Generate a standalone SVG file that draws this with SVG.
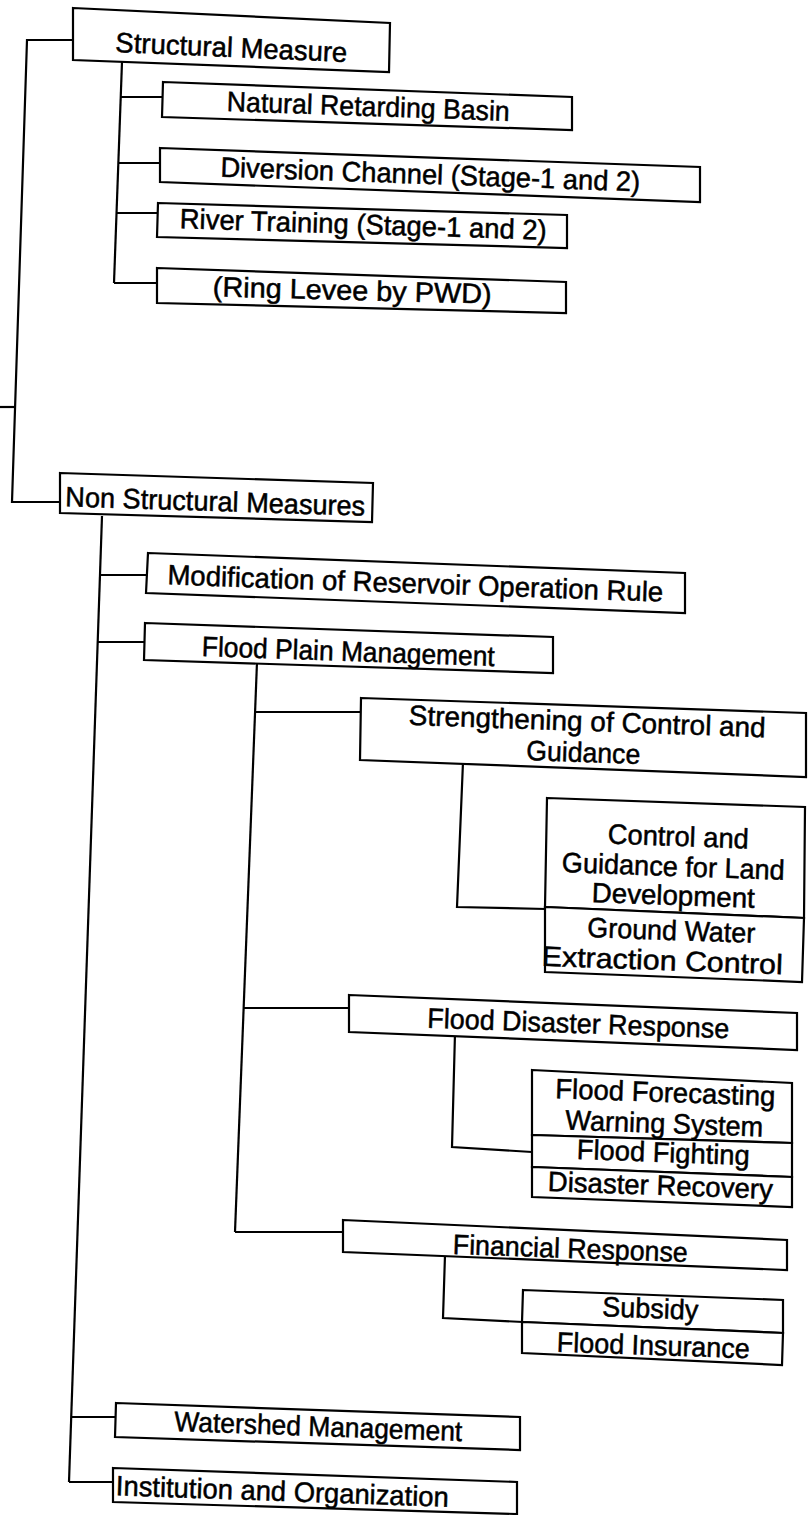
<svg xmlns="http://www.w3.org/2000/svg" width="808" height="1515" viewBox="0 0 808 1515">
<style>
.box{fill:#fff;stroke:#000;stroke-width:2.2;stroke-linejoin:miter}
.c{stroke:#000;stroke-width:2.2;fill:none}
.t{font-family:"Liberation Sans",Arial,sans-serif;font-size:28px;fill:#000;stroke:#000;stroke-width:0.5;text-anchor:middle}
</style>
<rect x="0" y="0" width="808" height="1515" fill="#fff"/>
<g id="connectors">
<polyline class="c" points="73,40 27,40 12,502 60,502"/>
<line class="c" x1="0" y1="407" x2="15" y2="407"/>
<line class="c" x1="122" y1="62" x2="114" y2="283"/>
<line class="c" x1="121" y1="97" x2="162" y2="97"/>
<line class="c" x1="118" y1="163" x2="160" y2="163"/>
<line class="c" x1="117" y1="213" x2="158" y2="213"/>
<line class="c" x1="114" y1="283" x2="157" y2="283"/>
<line class="c" x1="102" y1="516" x2="69" y2="1482"/>
<line class="c" x1="100" y1="575" x2="147" y2="575"/>
<line class="c" x1="98" y1="642" x2="145" y2="642"/>
<line class="c" x1="71" y1="1417" x2="116" y2="1417"/>
<line class="c" x1="69" y1="1482" x2="113" y2="1482"/>
<line class="c" x1="257" y1="662" x2="235" y2="1232"/>
<line class="c" x1="255" y1="712" x2="361" y2="712"/>
<line class="c" x1="244" y1="1008" x2="349" y2="1008"/>
<line class="c" x1="235" y1="1232" x2="343" y2="1232"/>
<polyline class="c" points="463,762 457,907 546,909"/>
<polyline class="c" points="455,1033 452,1147 532,1152"/>
<polyline class="c" points="445,1255 443,1318 523,1322"/>
</g>
<g id="n-structural">
<polygon class="box" points="73,8 390,23 389,72 73,60"/>
<text class="t" x="231" y="57" transform="rotate(2.5 231 57)" textLength="232" lengthAdjust="spacingAndGlyphs">Structural Measure</text>
</g>
<g id="n-natural">
<polygon class="box" points="163,82 572,97 572,130 162,117"/>
<text class="t" x="368" y="116" transform="rotate(2 368 116)" textLength="283" lengthAdjust="spacingAndGlyphs">Natural Retarding Basin</text>
</g>
<g id="n-diversion">
<polygon class="box" points="160,148 700,167 700,202 160,182"/>
<text class="t" x="430" y="184" transform="rotate(2 430 184)" textLength="420" lengthAdjust="spacingAndGlyphs">Diversion Channel (Stage-1 and 2)</text>
</g>
<g id="n-river">
<polygon class="box" points="158,203 567,215 567,248 157,237"/>
<text class="t" x="363" y="234" transform="rotate(1.8 363 234)" textLength="367" lengthAdjust="spacingAndGlyphs">River Training (Stage-1 and 2)</text>
</g>
<g id="n-ring">
<polygon class="box" points="157,268 566,282 566,313 157,303"/>
<text class="t" x="352" y="300" transform="rotate(1.5 352 300)" textLength="279" lengthAdjust="spacingAndGlyphs">(Ring Levee by PWD)</text>
</g>
<g id="n-nonstructural">
<polygon class="box" points="60,473 373,483 372,522 60,513"/>
<text class="t" x="215" y="511" transform="rotate(1.8 215 511)" textLength="300" lengthAdjust="spacingAndGlyphs">Non Structural Measures</text>
</g>
<g id="n-modification">
<polygon class="box" points="148,553 685,573 685,613 146,593"/>
<text class="t" x="415" y="593" transform="rotate(2 415 593)" textLength="496" lengthAdjust="spacingAndGlyphs">Modification of Reservoir Operation Rule</text>
</g>
<g id="n-floodplain">
<polygon class="box" points="145,623 553,637 553,673 144,660"/>
<text class="t" x="348" y="661" transform="rotate(2 348 661)" textLength="293" lengthAdjust="spacingAndGlyphs">Flood Plain Management</text>
</g>
<g id="n-strengthening">
<polygon class="box" points="361,698 806,713 806,777 360,760"/>
<text class="t" x="587" y="731" transform="rotate(2 587 731)" textLength="357" lengthAdjust="spacingAndGlyphs">Strengthening of Control and</text>
<text class="t" x="583" y="762" transform="rotate(2 583 762)" textLength="114" lengthAdjust="spacingAndGlyphs">Guidance</text>
</g>
<g id="n-landdev">
<polygon class="box" points="547,798 805,807 804,918 545,907"/>
<text class="t" x="678" y="846" transform="rotate(2 678 846)" textLength="141" lengthAdjust="spacingAndGlyphs">Control and</text>
<text class="t" x="673" y="876" transform="rotate(2 673 876)" textLength="223" lengthAdjust="spacingAndGlyphs">Guidance for Land</text>
<text class="t" x="673" y="905" transform="rotate(2 673 905)" textLength="163" lengthAdjust="spacingAndGlyphs">Development</text>
</g>
<g id="n-groundwater">
<polygon class="box" points="545,907 804,918 802,982 545,972"/>
<text class="t" x="671" y="940" transform="rotate(2 671 940)" textLength="168" lengthAdjust="spacingAndGlyphs">Ground Water</text>
<text class="t" x="662" y="970" transform="rotate(2 662 970)" textLength="241" lengthAdjust="spacingAndGlyphs">Extraction Control</text>
</g>
<g id="n-disaster">
<polygon class="box" points="349,995 797,1013 797,1050 349,1032"/>
<text class="t" x="578" y="1033" transform="rotate(2 578 1033)" textLength="302" lengthAdjust="spacingAndGlyphs">Flood Disaster Response</text>
</g>
<g id="n-forecasting">
<polygon class="box" points="532,1070 792,1083 792,1143 532,1135"/>
<text class="t" x="665" y="1102" transform="rotate(2 665 1102)" textLength="220" lengthAdjust="spacingAndGlyphs">Flood Forecasting</text>
<text class="t" x="664" y="1133" transform="rotate(2 664 1133)" textLength="198" lengthAdjust="spacingAndGlyphs">Warning System</text>
</g>
<g id="n-fighting">
<polygon class="box" points="532,1135 792,1143 792,1177 532,1167"/>
<text class="t" x="663" y="1162" transform="rotate(2 663 1162)" textLength="173" lengthAdjust="spacingAndGlyphs">Flood Fighting</text>
</g>
<g id="n-recovery">
<polygon class="box" points="532,1167 792,1177 792,1207 532,1197"/>
<text class="t" x="660" y="1195" transform="rotate(2 660 1195)" textLength="225" lengthAdjust="spacingAndGlyphs">Disaster Recovery</text>
</g>
<g id="n-financial">
<polygon class="box" points="343,1220 787,1240 787,1270 343,1252"/>
<text class="t" x="570" y="1258" transform="rotate(2 570 1258)" textLength="235" lengthAdjust="spacingAndGlyphs">Financial Response</text>
</g>
<g id="n-subsidy">
<polygon class="box" points="523,1290 783,1300 783,1333 522,1322"/>
<text class="t" x="650" y="1318" transform="rotate(2 650 1318)" textLength="96" lengthAdjust="spacingAndGlyphs">Subsidy</text>
</g>
<g id="n-insurance">
<polygon class="box" points="522,1322 783,1333 782,1365 522,1353"/>
<text class="t" x="653" y="1355" transform="rotate(2 653 1355)" textLength="193" lengthAdjust="spacingAndGlyphs">Flood Insurance</text>
</g>
<g id="n-watershed">
<polygon class="box" points="116,1403 520,1417 520,1450 115,1437"/>
<text class="t" x="318" y="1436" transform="rotate(2 318 1436)" textLength="288" lengthAdjust="spacingAndGlyphs">Watershed Management</text>
</g>
<g id="n-institution">
<polygon class="box" points="113,1468 517,1482 517,1514 113,1502"/>
<text class="t" x="282" y="1501" transform="rotate(2 282 1501)" textLength="333" lengthAdjust="spacingAndGlyphs">Institution and Organization</text>
</g>
</svg>
